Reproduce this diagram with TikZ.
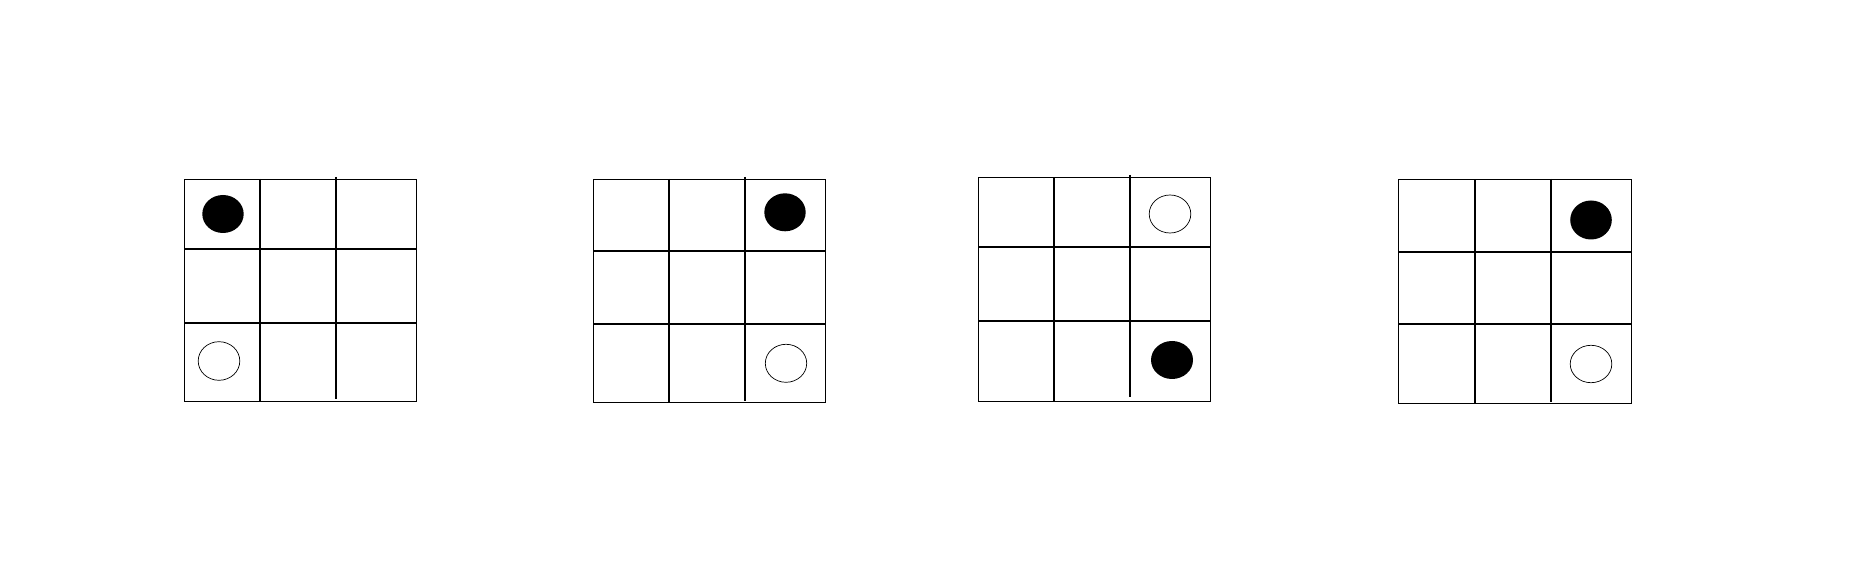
\documentclass[tikz,border=0pt]{standalone}
\usepackage{tikz}

\begin{document}
\begin{tikzpicture}[x=0.02cm,y=-0.02cm,
    frame/.style={line width=0.55pt},
    rule/.style={line width=0.95pt},
    blackstone/.style={fill=black},
    whitestone/.style={draw=black,line width=0.4pt}]
        \useasboundingbox (0,0) rectangle (1861,580);
        % the four boards: left/top/right/bottom, inner columns, inner rows, top/bottom of 2nd column
        \foreach \l/\t/\r/\b/\ca/\cb/\ra/\rb/\ct/\cbot in {
            184/179/416/401/260/335.7/249.3/323.3/177/399,
            593.3/179/825.3/402/668.7/744.7/250.7/324/177/400.7,
            978.3/177.3/1210.7/401/1053.7/1129.7/247/320.7/175/397.3,
            1398.3/179.7/1631/403/1475/1551/252.3/324/179/402.3} {
          \draw[frame] (\l,\t) rectangle (\r,\b);
          \draw[rule] (\ca,\t) -- (\ca,\b);
          \draw[rule] (\cb,\ct) -- (\cb,\cbot);
          \draw[rule] (\l,\ra) -- (\r,\ra);
          \draw[rule] (\l,\rb) -- (\r,\rb);
        }
        % stones
\fill[blackstone] (223,214) ellipse [x radius=20.7, y radius=19];
\draw[whitestone] (219,361) ellipse [x radius=20.8, y radius=19.3];

\fill[blackstone] (785,212.3) ellipse [x radius=20.7, y radius=19];
\draw[whitestone] (786,363.3) ellipse [x radius=20.7, y radius=19];

\draw[whitestone] (1170,214) ellipse [x radius=20.8, y radius=19];
\fill[blackstone] (1172,360) ellipse [x radius=21, y radius=19];

\fill[blackstone] (1591,220) ellipse [x radius=20.8, y radius=19.5];
\draw[whitestone] (1591,364) ellipse [x radius=20.8, y radius=18.7];

\end{tikzpicture}
\end{document}
